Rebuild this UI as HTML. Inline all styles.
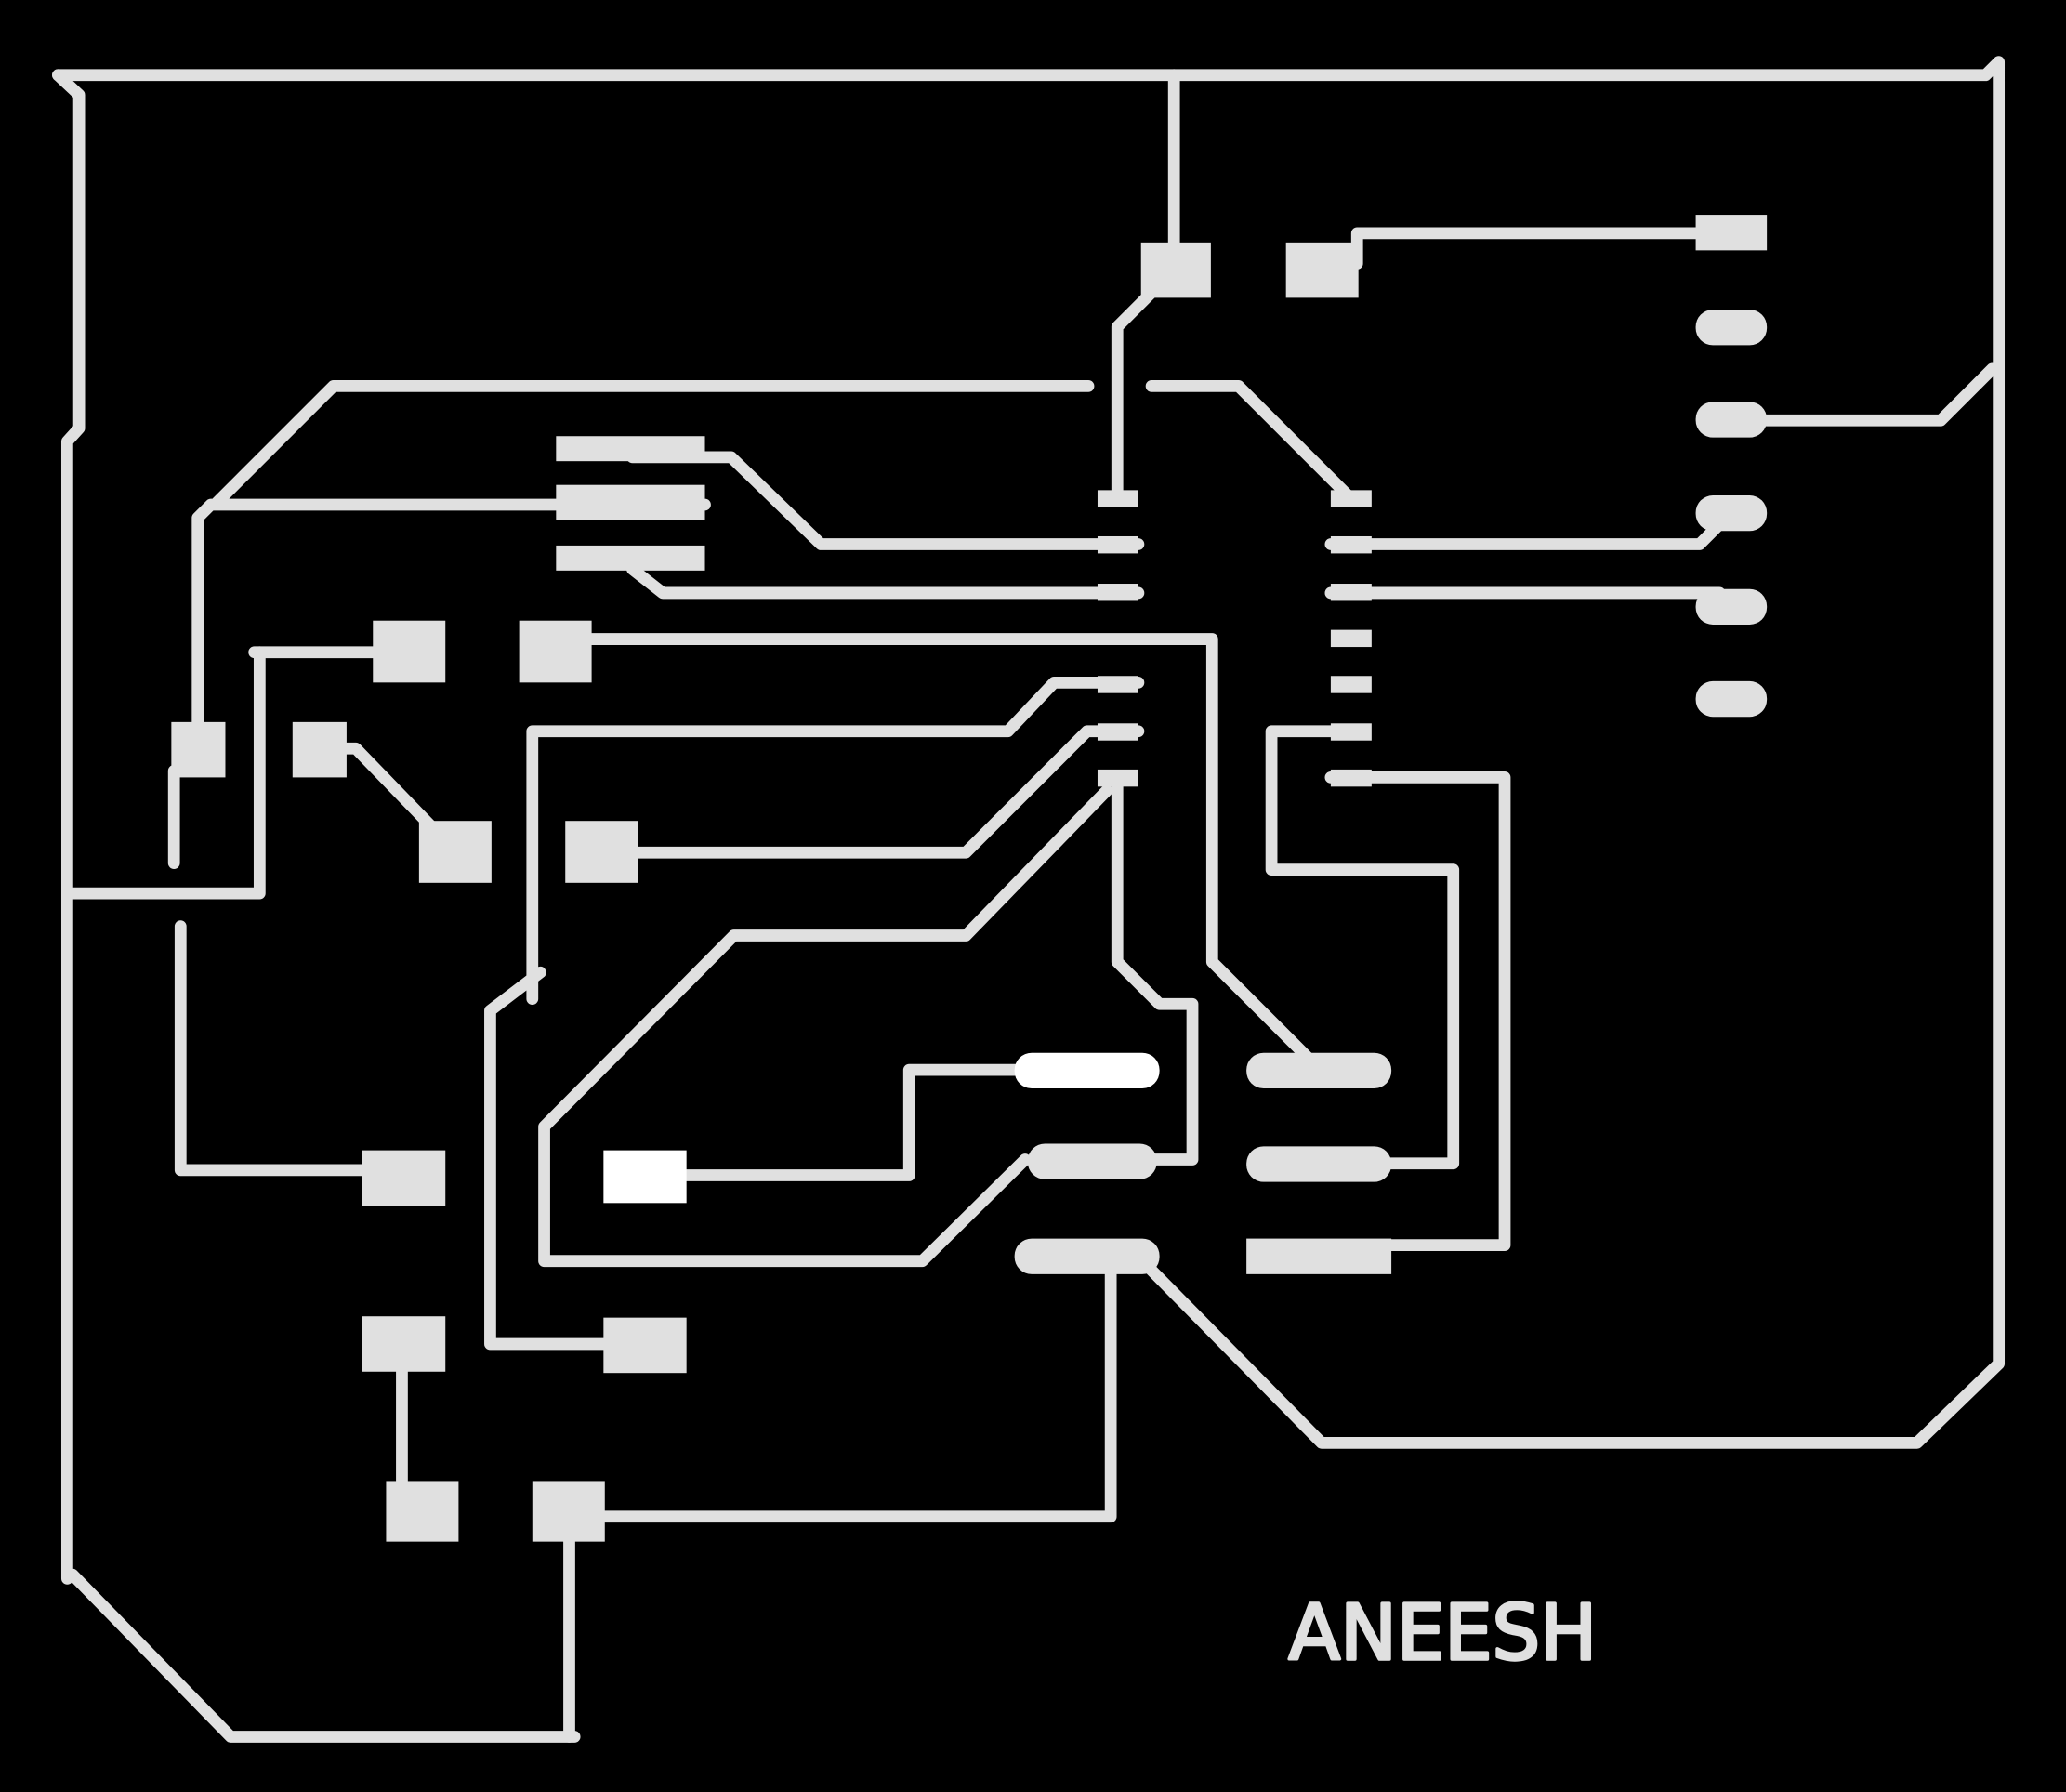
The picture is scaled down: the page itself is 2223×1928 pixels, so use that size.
<!DOCTYPE html>
<html><head><style>html,body{margin:0;padding:0;background:#000;}svg{display:block}</style></head>
<body>
<svg width="2223" height="1928" viewBox="0 0 1568 1360" xmlns="http://www.w3.org/2000/svg">
<rect width="1568" height="1360" fill="#000"/>
<g stroke="#e0e0e0" stroke-width="9" fill="none" stroke-linecap="round" stroke-linejoin="round">
<polyline points="44,57 1507,57 1517,47 1517,1035 1455,1095 1003,1095 870,960"/>
<polyline points="1330,319 1473,319 1512,280"/>
<polyline points="44,57 60,72 60,325 51,335 51,1198"/>
<polyline points="55,1195 175,1318 436,1318"/>
<polyline points="891,57 891,205"/>
<polyline points="1030,200 1030,177 1290,177"/>
<polyline points="880,216 848,248 848,378"/>
<polyline points="826,293 253,293 165,381"/>
<polyline points="874,293 940,293 1025,378"/>
<polyline points="480,347 555,347 623,413 864,413"/>
<polyline points="480,432 503,450 864,450"/>
<polyline points="1010,413 1290,413 1310,393"/>
<polyline points="1010,450 1305,450 1310,460"/>
<polyline points="535,383 160,383 150,393 150,555"/>
<polyline points="132,585 132,655"/>
<polyline points="283,495 193,495"/>
<polyline points="197,495 197,678 55,678"/>
<polyline points="263,568 270,568 330,630"/>
<polyline points="449,485 920,485 920,730 995,805"/>
<polyline points="864,518 800,518 765,555 404,555 404,758"/>
<polyline points="484,647 733,647 825,555 864,555"/>
<polyline points="410,738 372,767 372,1020 460,1020"/>
<polyline points="840,600 733,710 557,710 413,855 413,957 700,957 778,880"/>
<polyline points="848,590 848,730 880,762 905,762 905,880 870,880"/>
<polyline points="780,812 690,812 690,892 520,892"/>
<polyline points="1010,555 965,555 965,660 1103,660 1103,883 1048,883"/>
<polyline points="1010,590 1142,590 1142,945 1055,945"/>
<polyline points="137,703 137,888 275,888"/>
<polyline points="305,1041 305,1125"/>
<polyline points="459,1151 843,1151 843,960"/>
<polyline points="432,1170 432,1318"/>
</g>
<g fill="#e0e0e0">
<rect x="866" y="184" width="53" height="42"/>
<rect x="976" y="184" width="55" height="42"/>
<rect x="1287" y="163" width="54" height="27"/>
<rect x="1287" y="235" width="54" height="27" rx="13"/>
<rect x="1287" y="305" width="54" height="27" rx="13"/>
<rect x="1287" y="376" width="54" height="27" rx="13"/>
<rect x="1287" y="447" width="54" height="27" rx="13"/>
<rect x="1287" y="517" width="54" height="27" rx="13"/>
<rect x="422" y="331" width="113" height="19"/>
<rect x="422" y="368" width="113" height="27"/>
<rect x="422" y="414" width="113" height="19"/>
<rect x="833" y="372" width="31" height="13"/>
<rect x="833" y="407" width="31" height="13"/>
<rect x="833" y="443" width="31" height="13"/>
<rect x="833" y="513" width="31" height="13"/>
<rect x="833" y="549" width="31" height="13"/>
<rect x="833" y="584" width="31" height="13"/>
<rect x="1010" y="372" width="31" height="13"/>
<rect x="1010" y="407" width="31" height="13"/>
<rect x="1010" y="443" width="31" height="13"/>
<rect x="1010" y="478" width="31" height="13"/>
<rect x="1010" y="513" width="31" height="13"/>
<rect x="1010" y="549" width="31" height="13"/>
<rect x="1010" y="584" width="31" height="13"/>
<rect x="130" y="548" width="41" height="42"/>
<rect x="283" y="471" width="55" height="47"/>
<rect x="222" y="548" width="41" height="42"/>
<rect x="318" y="623" width="55" height="47"/>
<rect x="394" y="471" width="55" height="47"/>
<rect x="429" y="623" width="55" height="47"/>
<rect x="780" y="868" width="98" height="27" rx="13"/>
<rect x="770" y="940" width="110" height="27" rx="13"/>
<rect x="946" y="799" width="110" height="27" rx="13"/>
<rect x="946" y="870" width="110" height="27" rx="13"/>
<rect x="946" y="940" width="110" height="27"/>
<rect x="275" y="873" width="63" height="42"/>
<rect x="275" y="999" width="63" height="42"/>
<rect x="458" y="1000" width="63" height="42"/>
<rect x="293" y="1124" width="55" height="46"/>
<rect x="404" y="1124" width="55" height="46"/>
</g>
<g fill="#ffffff">
<rect x="770" y="799" width="110" height="27" rx="13"/>
<rect x="458" y="873" width="63" height="40"/>
</g>
<text x="978" y="1259" font-family="DejaVu Sans, Liberation Sans, sans-serif" font-size="58" fill="#e0e0e0" stroke="#e0e0e0" stroke-width="2.5" stroke-linejoin="round" textLength="234" lengthAdjust="spacingAndGlyphs">ANEESH</text>
</svg>
</body></html>
